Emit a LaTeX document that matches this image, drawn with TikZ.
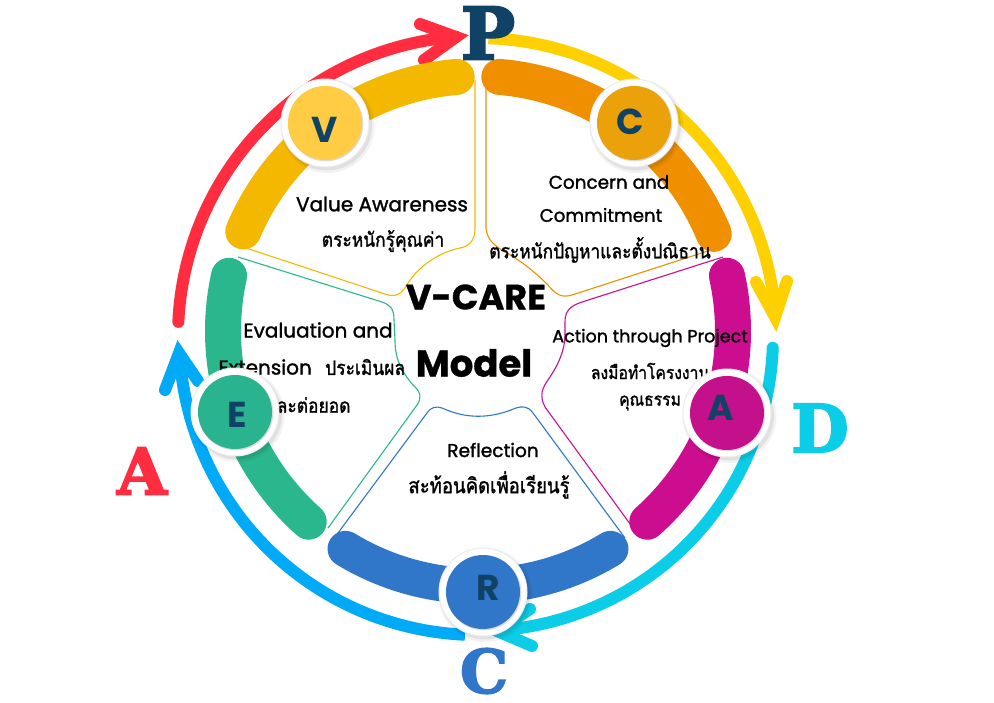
\documentclass[tikz,border=0pt]{standalone}
\usepackage{fontspec}
\setmainfont{Poppins}
\newfontfamily\latfont[FakeBold=1.4]{Poppins}
\newfontfamily\thfont[Script=Thai,FakeBold=1.3,FakeStretch=.87]{Loma}
\newfontfamily\slab[FakeBold=3]{DejaVu Serif Bold}
\newfontfamily\headfont[FakeBold=1]{Poppins Bold}
\newfontfamily\badgefont{Poppins Bold}
\definecolor{navy}{HTML}{0F4264}
\definecolor{cyellow}{HTML}{F5B800}
\definecolor{cyellowb}{HTML}{FFCC44}
\definecolor{corange}{HTML}{F09000}
\definecolor{corangeb}{HTML}{EBA10A}
\definecolor{cmag}{HTML}{CC0D8F}
\definecolor{cmagb}{HTML}{C4108A}
\definecolor{cblue}{HTML}{3077C9}
\definecolor{cgreen}{HTML}{2BB78D}
\definecolor{cgreenb}{HTML}{2AB38F}
\definecolor{ared}{HTML}{FF2D3F}
\definecolor{ayel}{HTML}{FFD000}
\definecolor{acyan}{HTML}{0CCDE8}
\definecolor{ablue}{HTML}{00AAF7}
\newcommand\ringarc[5]{plot[domain=#4:#5,samples=120,smooth] ({#1+#3*cos(\x)},{#2-#3*sin(\x)})}
\newcommand\fs[1]{\fontsize{#1pt}{#1pt}\selectfont}
\tikzset{
  outerarc/.style={line width=12pt,draw=#1,line cap=round},
  headtip/.style={line width=12pt,draw=#1,line cap=round,line join=miter,miter limit=20},
  innerarc/.style={line width=36pt,draw=#1,line cap=round},
  outline/.style={line width=1.1pt,draw=#1},
  bigletter/.style={text=#1,inner sep=0pt},
  lbl/.style={inner sep=0pt,text=black},
  thl/.style={inner sep=0pt,text=black,font=\thfont\fs{20}},
  badgetext/.style={inner sep=0pt,text=navy,font=\badgefont\fs{36}},
}
\newcommand\badge[6]{% name, cx, cy, fill, lx, ly, label follows
  \fill[black,opacity=.05] (#2+2.5,#3+3) circle[radius=47pt];
  \fill[black,opacity=.07] (#2+2,#3+2.5) circle[radius=45pt];
  \fill[white,draw=black!8,line width=1pt] (#2,#3) circle[radius=44pt];
  \fill[black,opacity=.15] (#2+.8,#3+.8) circle[radius=37.5pt];
  \node[circle,fill=#4,minimum size=74pt,inner sep=0pt] (#1) at (#2,#3) {};
  \node[badgetext] (#1l) at (#5,#6)
}
\begin{document}
\begin{tikzpicture}[x=1pt,y=-1pt]
\useasboundingbox (0,0) rectangle (994,702);
\fill[white] (0,0) rectangle (994,702);
% outer PDCA arrows
\coordinate (redA) at (420,24); \coordinate (redT) at (456,37); \coordinate (redB) at (424,60);
\coordinate (yelA) at (756,282); \coordinate (yelT) at (775,317); \coordinate (yelB) at (787,281);
\coordinate (cyaA) at (530,609); \coordinate (cyaT) at (497,631); \coordinate (cyaB) at (532,646);
\coordinate (bluA) at (165,390); \coordinate (bluT) at (179,353); \coordinate (bluB) at (198,381);
\draw[outerarc=ablue,line cap=butt] \ringarc{478}{336}{299}{267.5}{183.2};
\draw[headtip=ablue] (bluA) -- (bluT) -- (bluB);
\draw[outerarc=acyan] \ringarc{478}{336}{295}{-2.3}{-86.3};
\draw[headtip=acyan] (cyaA) -- (cyaT) -- (cyaB);
\draw[outerarc=ayel,line cap=butt] \ringarc{478}{336}{298}{88}{3.7};
\draw[headtip=ayel] (yelA) -- (yelT) -- (yelB);
\draw[outerarc=ared] \ringarc{478}{336}{300}{177.3}{94.2};
\draw[headtip=ared] (redA) -- (redT) -- (redB);
% inner segments
\draw[innerarc=cyellow] \ringarc{478}{331}{255}{157}{94.8};
\draw[innerarc=corange] \ringarc{478}{331}{255}{85.2}{22.4};
\draw[innerarc=cmag] \ringarc{478}{331}{255}{12.5}{-48.4};
\draw[innerarc=cblue] \ringarc{478}{331}{255}{-58.7}{-121.3};
\draw[innerarc=cgreen] \ringarc{478}{331}{255}{228.4}{167.5};
% outlines
\draw[outline=cyellow] (475,80) -- (475,228) .. controls (475,240) and (470,246) .. (460,248) .. controls (440,252) and (420,265) .. (408,283) .. controls (402,294) and (396,298) .. (385,294) -- (243,247);
\draw[outline=corange] (486,80) -- (486,228) .. controls (487,240) and (495,246) .. (505,252) .. controls (520,260) and (535,272) .. (548,285) .. controls (556,295) and (562,298) .. (572,295) -- (717,248);
\draw[outline=cmag] (723,257) -- (582,302) .. controls (570,306) and (565,311) .. (565,322) -- (565,335) .. controls (565,350) and (558,365) .. (550,377) .. controls (542,388) and (539,395) .. (545,407) -- (633,528);
\draw[outline=cblue] (625,538) -- (533,413) .. controls (528,406) and (522,406) .. (516,408) .. controls (490,419) and (466,419) .. (442,408) .. controls (436,406) and (431,407) .. (427,413) -- (335,537);
\draw[outline=cgreen] (328,528) -- (417,405) .. controls (422,398) and (421,392) .. (413,385) .. controls (402,372) and (395,360) .. (395,340) -- (394,320) .. controls (394,308) and (390,305) .. (382,302) -- (238,257);
% titles
\node[inner sep=0pt,font=\headfont\fs{35}] (title1) at (476,297) {V-CARE};
\node[inner sep=0pt,font=\headfont\fs{37}] (title2) at (474,363) {Model};
% labels
\node[lbl,font=\latfont\fs{20}] (v1) at (382,204) {Value Awareness};
\node[thl] (v2) at (383,241) {ตระหนักรู้คุณค่า};
\node[lbl,font=\latfont\fs{18.4}] (c1) at (609,182) {Concern and};
\node[lbl,font=\latfont\fs{18.2}] (c2) at (601,215) {Commitment};
\node[thl] (c3) at (600,250) {ตระหนักปัญหาและตั้งปณิธาน};
\node[lbl,font=\latfont\fs{17.6}] (a1) at (650,338) {Action through Project};
\node[thl,font=\thfont\fs{18}] (a2) at (650,371) {ลงมือทำโครงงาน};
\node[thl,font=\thfont\fs{18}] (a3) at (650,403) {คุณธรรม};
\node[lbl,font=\latfont\fs{18.6}] (r1) at (493,450) {Reflection};
\node[thl,font=\thfont\fs{21.3}] (r2) at (489,485) {สะท้อนคิดเพื่อเรียนรู้};
\node[lbl,font=\latfont\fs{20}] (e1) at (318,330) {Evaluation and};
\node[lbl,anchor=east,font=\latfont\fs{20}] (e2) at (312,367) {Extension};
\node[thl,anchor=west] (e2b) at (325,367) {ประเมินผล};
\node[thl] (e3) at (308,405) {และต่อยอด};
% badges
\badge{bv}{325}{123}{cyellowb}{325}{130}{V};
\badge{bc}{634}{123}{corangeb}{630}{122}{C};
\badge{be}{235}{412}{cgreenb}{237}{415}{E};
\badge{ba}{727}{413}{cmagb}{721}{408}{A};
\badge{br}{483}{592}{cblue}{488}{588}{R};
% PDCA letters
\node[bigletter=navy,font=\slab\fs{72}] (lP) at (488,33) {P};
\node[bigletter=acyan,font=\slab\fs{66}] (lD) at (820,428) {D};
\node[bigletter=cblue,font=\slab\fs{60}] (lC) at (484,671) {C};
\node[bigletter=ared,font=\slab\fs{64}] (lA) at (142,471) {A};
\end{tikzpicture}
\end{document}
